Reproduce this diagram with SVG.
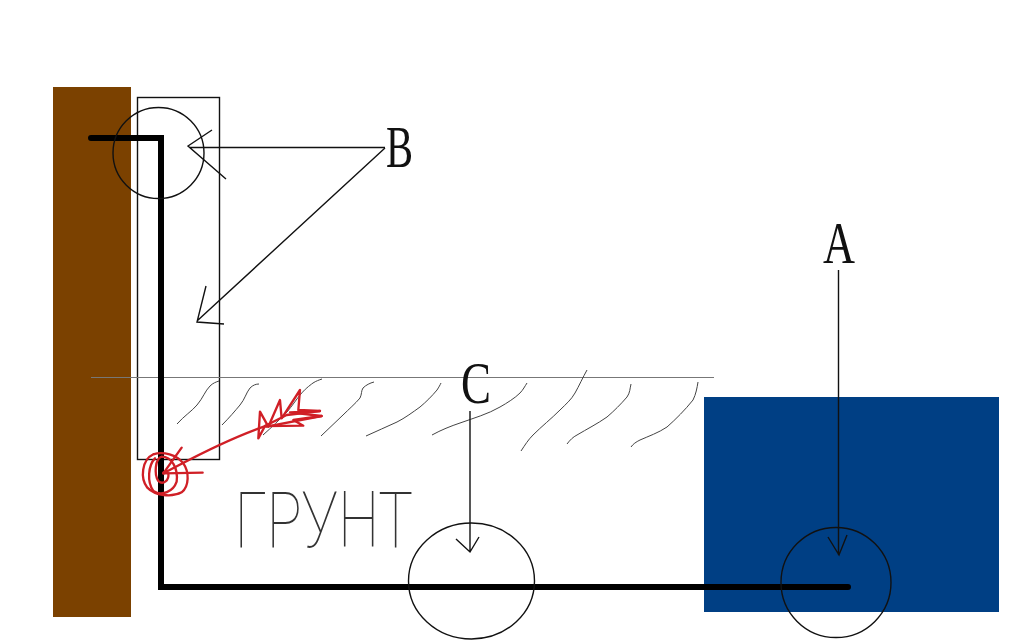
<svg xmlns="http://www.w3.org/2000/svg" width="1024" height="640" viewBox="0 0 1024 640">
<style>
.ln{fill:none;stroke:#111;stroke-width:1.4}
.hatch{fill:none;stroke:#444;stroke-width:1;stroke-linejoin:round}
.red{fill:none;stroke:#d01f26;stroke-width:7;stroke-linejoin:round;stroke-linecap:round}
.lab{font-family:"Liberation Serif",serif;font-size:60px;fill:#111}
</style>
<rect width="1024" height="640" fill="#fff"/>
<g id="wall"><rect x="53" y="87" width="78" height="530" fill="#7b4100"/></g>
<g id="water"><rect x="704" y="397" width="295" height="215" fill="#003f84"/></g>
<g id="box"><rect x="137.500" y="97.500" width="82" height="362" class="ln"/></g>
<g id="ground">
<line x1="91" y1="377.500" x2="714" y2="377.500" stroke="#777" stroke-width="1"/>
<path class="hatch" d="M177,424C184,416 192,411 197,405C203,398 205,391 210,386C213,383 216,382 219,381"/>
<path class="hatch" d="M222,425C229,418 235,411 240,405C245,399 246,393 250,388C253,385 256,384 259,384"/>
<path class="hatch" d="M263,435C271,428 280,419 287,412C292,406 296,400 300,395C305,389 309,386 313,383C316,381 319,380 322,379"/>
<path class="hatch" d="M321,436C328,429 336,422 343,415C349,409 355,404 360,398C362,394 361,391 363,388C366,385 370,383 374,382"/>
<path class="hatch" d="M366,436C376,431 387,427 397,422C405,418 413,412 420,407C426,402 432,396 437,390C439,387 440,385 441,383"/>
<path class="hatch" d="M432,435C441,430 451,426 460,423C474,418 488,414 500,407C507,403 515,398 520,393C523,390 525,386 527,383"/>
<path class="hatch" d="M521,451C525,445 528,440 533,435C542,426 551,419 560,410C566,404 571,400 575,393C579,386 583,377 587,370"/>
<path class="hatch" d="M567,444C570,440 573,437 577,435C587,429 597,424 607,417C614,411 621,404 627,397C630,393 630,388 631,384"/>
<path class="hatch" d="M631,447C633,444 636,442 640,440C649,436 658,433 667,427C676,419 685,410 693,400C696,394 697,388 698,382"/>
<text x="235" y="547" font-family="Roboto,sans-serif" font-weight="100" font-size="77" fill="#333" textLength="178" lengthAdjust="spacingAndGlyphs">ГРУНТ</text>
</g>
<g id="pipe"><path d="M91,138H161V587H848" fill="none" stroke="#000" stroke-width="6" stroke-linecap="round" stroke-linejoin="miter"/></g>
<g id="circle-b"><circle cx="158.500" cy="153" r="45.500" class="ln"/></g>
<g id="circle-c"><ellipse cx="471.500" cy="581" rx="63" ry="58" class="ln"/></g>
<g id="circle-a"><circle cx="836" cy="582.500" r="55" class="ln"/></g>
<g id="connectors">
<path class="ln" d="M385,147.500H190M212,130L188,146L226,179"/>
<path class="ln" d="M385,148L197,321M206,286L197,322L224,324"/>
<path class="ln" d="M470,411V552M456,539L470,552L479,537"/>
<path class="ln" d="M838.500,270V555M828,537L839,555L847,535"/>
</g>
<g id="label-a"><text class="lab" x="823" y="263" textLength="32" lengthAdjust="spacingAndGlyphs">A</text></g>
<g id="label-b"><text class="lab" x="386" y="167" textLength="27" lengthAdjust="spacingAndGlyphs">B</text></g>
<g id="label-c"><text class="lab" x="461" y="403" textLength="30" lengthAdjust="spacingAndGlyphs">C</text></g>
<g id="red-mark" transform="translate(130 365) scale(.3333)">
<path class="red" d="M70,268C100,258 140,270 160,295C178,320 178,365 155,382C125,398 75,392 52,368C30,340 35,285 70,268"/>
<path class="red" d="M75,280C55,300 50,350 70,378C95,395 130,380 140,350C145,310 125,275 95,275C75,280 72,330 85,348C100,362 118,345 115,325"/>
<path class="red" d="M155,248L125,290L100,325L218,323M100,325C160,295 270,230 410,182"/>
<path class="red" d="M385,220L390,140L415,185L450,105L455,160L510,75L505,135L570,138L480,142L575,153L490,165L520,182L405,183L385,220"/>
<path class="red" d="M405,183L470,150L570,138M410,185L575,153"/>
<circle cx="101" cy="324" r="5" fill="#d01f26"/>
</g>
</svg>
